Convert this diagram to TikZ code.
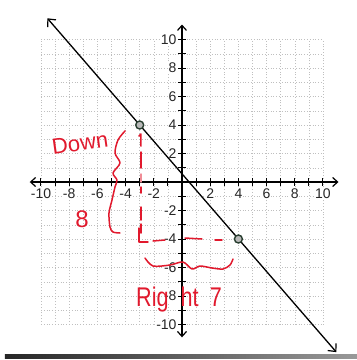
\documentclass[tikz,border=0pt]{standalone}
\usepackage{fontspec}
\setmainfont{Liberation Sans}
\usetikzlibrary{arrows.meta}
\definecolor{ink}{RGB}{225,25,45}
\definecolor{ptc}{RGB}{40,62,48}
\begin{document}
\begin{tikzpicture}[x=1pt,y=-1pt,
  gridline/.style={gray!50,line width=0.4pt,dash pattern=on 1pt off 1.8pt},
  axisline/.style={line width=1.5pt,{Straight Barb[length=5pt,width=9pt,line width=1.2pt]}-{Straight Barb[length=5pt,width=9pt,line width=1.2pt]}},
  tickmark/.style={line width=1pt},
  lab/.style={font=\fontsize{14}{14}\selectfont,fill=white,inner sep=0.8pt,text=black!85},
  pt/.style={circle,draw=ptc,fill=gray!55,line width=1.4pt,minimum size=8pt,inner sep=0pt},
  mainline/.style={line width=1.3pt,{Straight Barb[length=6pt,width=11pt,line width=1.2pt]}-{Straight Barb[length=6pt,width=11pt,line width=1.2pt]}},
  hand/.style={ink,line width=1.5pt,line cap=round,line join=round},
  handtext/.style={text=ink,inner sep=0pt}]
\useasboundingbox (0,0) rectangle (357,360);
\begin{scope}[shift={(182,182)},x=14.1pt,y=14.25pt]
  % grid
  \foreach \i in {-10,...,10} {
    \draw[gridline] (\i,-10) -- (\i,10);
    \draw[gridline] (-10,\i) -- (10,\i);
  }
  % axes
  \coordinate (xl) at (-10.8,0);
  \coordinate (xr) at (11.1,0);
  \coordinate (yb) at (0,-10.9);
  \coordinate (yt) at (0,11.05);
  \draw[axisline] (xl) -- (xr);
  \draw[axisline] (yb) -- (yt);
  \foreach \i in {1,...,10} {
    \draw[tickmark] (\i,-0.28) -- (\i,0.28);
    \draw[tickmark] (-\i,-0.28) -- (-\i,0.28);
    \draw[tickmark] (-0.28,\i) -- (0.28,\i);
    \draw[tickmark] (-0.28,-\i) -- (0.28,-\i);
  }
  % labels
  \foreach \i in {2,4,6,8,10} {
    \node[lab,anchor=north] (xp\i) at (\i,-0.38) {\i};
    \node[lab,anchor=north] (xn\i) at (-\i,-0.38) {-\i};
    \node[lab,anchor=east] (yp\i) at (-0.32,\i) {\i};
    \node[lab,anchor=east] (yn\i) at (-0.32,-\i) {-\i};
  }
  % line and points
  \coordinate (lt) at (-9.55,11.49);
  \coordinate (lb) at (10.95,-11.94);
  \draw[mainline] (lt) -- (lb);
  \node[pt] (A) at (-3,4) {};
  \node[pt] (B) at (4,-4) {};
\end{scope}
% handwritten annotations
\node[handtext,font=\fontsize{22}{22}\selectfont,rotate=8] (down) at (80,143) {Down};
\node[handtext,font=\fontsize{24}{24}\selectfont] (eight) at (82,219) {8};
\node[handtext,font=\fontsize{27}{27}\selectfont,anchor=base west,xscale=0.8,transform shape] (right) at (136,306) {Rig\hspace{15pt}ht\hspace{14pt}7};
\draw[hand] plot[smooth] coordinates {(125,131) (118,140) (115,153) (120,163) (113,173) (117,180) (115,187) (112,200) (109,213) (110,227) (113,232) (120,233)};
\draw[hand] (139,136) -- (141,134) -- (141,146);
\draw[hand] (141,152) -- (141,168);
\draw[hand,ink!50] (141,174) -- (141,182);
\draw[hand] (141,187) -- (141,193);
\draw[hand] (141,207) -- (141,220);
\draw[hand] (141,224) -- (141,233);
\draw[hand] (139,228) -- (139,242) -- (148,242);
\draw[hand] (153,241) -- (165,240);
\draw[hand] (185,238) -- (202,239);
\draw[hand] (215,240) -- (222,240);
\draw[hand] plot[smooth] coordinates {(145,258) (153,266) (170,265) (183,262) (192,269) (200,266) (212,268) (223,269) (230,265) (233,259)};
% scan edge
\shade[left color=black!85,right color=black!40] (5,354) rectangle (357,358);
\end{tikzpicture}
\end{document}
